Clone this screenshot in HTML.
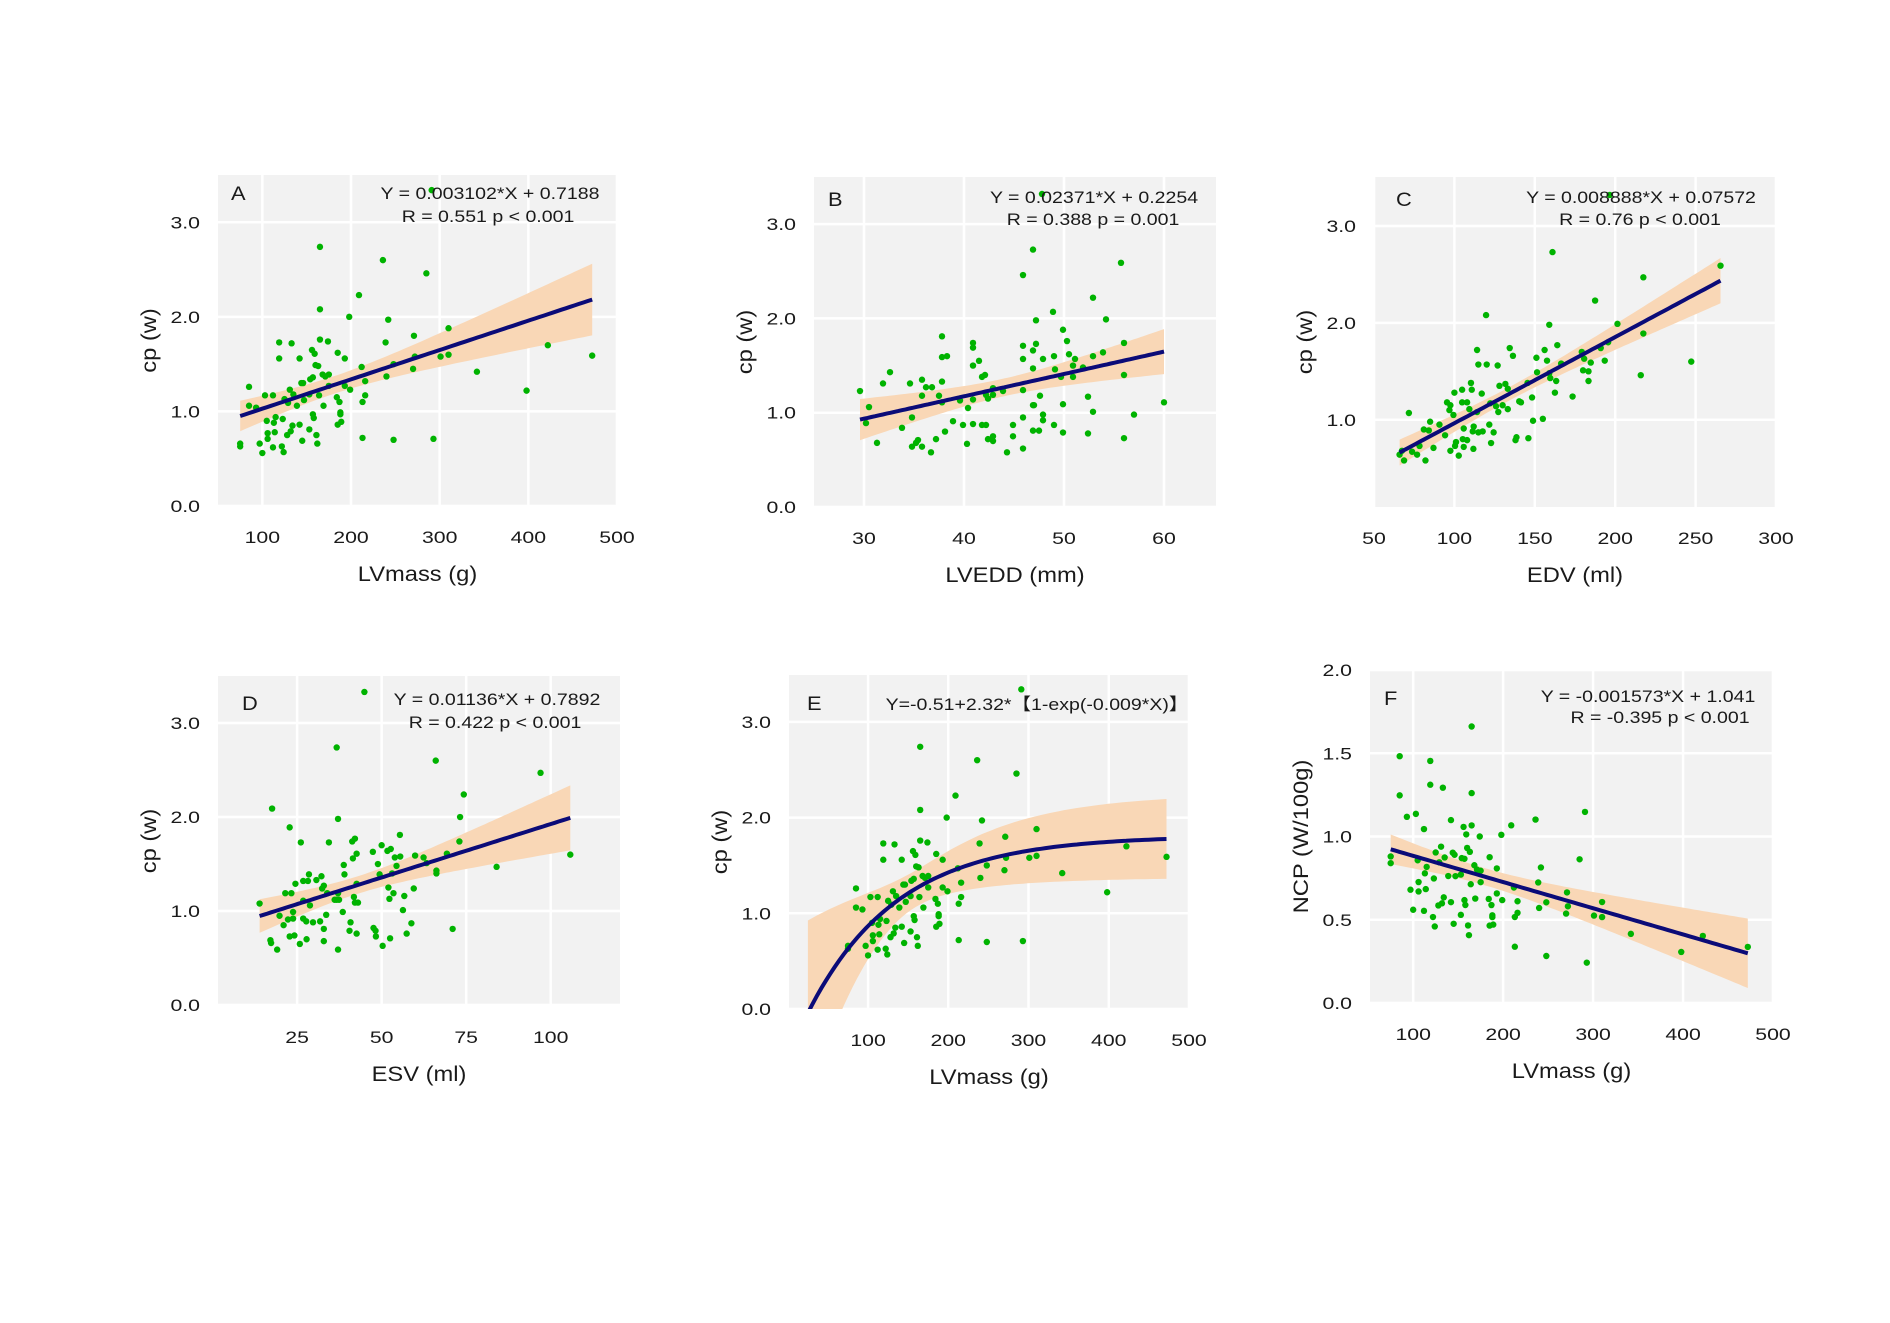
<!DOCTYPE html>
<html><head><meta charset="utf-8"><style>
html,body{margin:0;padding:0;background:#fff;}
svg{display:block;font-family:"Liberation Sans",Arial,sans-serif;}
</style></head><body>
<svg id="fig" width="1890" height="1323" viewBox="0 0 1890 1323" xmlns="http://www.w3.org/2000/svg"></svg>
<script>
// ---- data ----
const lvmass=[75,75,85,85,93,97,100,103,105,106,106,112,112,113,114,115,119,119,122,123,124,125,128,129,131,132,133,134,135,139,142,142,144,145,146,147,153,153,154,156,157,157,158,159,160,161,162,163,164,165,165,165,168,169,171,174,175,175,184,185,185,187,188,188,189,193,193,198,199,209,212,213,213,216,216,236,239,240,242,248,248,270,271,272,285,291,293,301,310,310,342,398,422,472];
const cp=[0.63,0.66,1.26,1.06,1.04,0.66,0.56,1.17,0.90,0.77,0.71,1.17,0.62,0.88,0.78,0.94,1.73,1.56,0.63,0.92,0.57,1.13,0.75,1.09,1.23,0.79,1.72,0.85,1.18,1.06,1.56,0.86,1.30,0.69,1.30,1.12,0.81,1.18,1.34,1.65,1.36,0.97,0.93,1.61,1.49,0.75,0.66,1.48,1.17,2.08,2.74,1.76,1.39,1.06,1.37,1.74,1.27,1.39,1.15,1.62,0.86,1.10,0.97,0.99,0.89,1.56,1.27,2.00,1.23,2.23,1.47,1.10,0.72,1.32,1.17,2.60,1.73,1.37,1.97,1.50,0.70,1.45,1.80,1.58,2.46,3.34,0.71,1.58,1.88,1.60,1.42,1.22,1.70,1.59];
const lvedd=[29.6,30.5,30.2,31.3,31.9,32.6,33.8,34.6,34.8,34.8,35.2,35.4,35.8,35.8,35.8,36.2,36.7,36.8,37.2,37.5,37.8,37.8,37.8,37.8,38.1,38.3,38.9,39.6,39.9,40.3,40.4,40.9,40.9,40.9,40.9,40.9,41.5,41.8,41.8,42.1,42.2,42.2,42.4,42.4,42.9,42.9,42.9,42.9,43.9,44.3,44.9,44.9,45.9,45.9,45.9,45.9,45.9,45.9,46.9,46.9,46.9,46.9,47.0,46.9,47.2,47.2,47.5,47.6,47.8,47.9,47.9,47.9,48.9,49.0,49.0,49.1,49.7,49.9,49.9,49.9,50.3,50.5,50.9,50.9,51.1,51.9,52.4,52.4,52.9,52.9,52.9,53.9,54.2,55.7,56.0,56.0,56.0,57.0,60.0];
const cpB=[1.23,1.06,0.89,0.68,1.31,1.43,0.84,1.31,0.95,0.64,0.68,0.71,1.35,1.18,0.64,1.27,0.58,1.27,0.72,1.18,1.81,1.59,1.33,1.11,0.80,1.60,0.91,1.13,0.87,0.67,1.05,1.74,1.69,1.50,1.14,0.88,1.55,1.38,0.87,1.40,0.87,1.19,1.15,0.72,1.26,1.19,0.75,0.70,1.23,0.58,0.87,0.75,2.46,1.71,1.57,1.24,0.95,0.62,2.73,1.66,1.47,1.08,1.08,0.81,1.98,1.73,0.81,1.18,3.32,1.57,0.98,0.92,2.07,1.60,0.87,1.46,1.38,1.88,1.09,0.79,1.76,1.62,1.50,1.38,1.57,1.48,1.17,0.78,2.22,1.60,1.01,1.64,1.99,2.59,1.74,1.40,0.73,0.98,1.11];
const edv=[65.9,67.4,68.7,71.7,73.7,76.8,78.3,81.0,82.0,84.1,84.9,87.0,90.7,94.2,95.4,96.9,97.5,97.5,99.4,100,100.4,101,102.7,104.8,104.8,105.2,105.8,105.8,107.9,107.9,109.3,110.3,110.8,111.4,111.8,112.0,114.1,114.1,114.9,114.9,117,117.6,119.7,120.1,121.7,122.3,122.8,124.4,125.9,126.9,127.3,128,130,131.7,133.2,133.2,134.4,136.4,138,138.6,140.3,141.4,145.5,146,148.3,148.9,151,151.4,155,156.1,157.6,159,159,159.6,161,162.5,163.3,164,166.4,173.5,179.2,180,180.7,183.4,183.4,184.8,187.5,191,193.5,195.6,201.4,215.9,217.5,217.5,247.3,265.5,196.6];
const cpC=[0.64,0.68,0.58,1.07,0.67,0.64,0.73,0.90,0.58,0.89,0.98,0.71,0.95,0.84,1.18,1.10,1.15,0.68,1.05,1.28,0.73,0.77,0.63,1.31,1.18,0.80,0.72,0.91,1.18,0.79,1.11,1.38,1.31,0.88,0.70,0.93,1.08,1.72,1.57,0.87,1.27,0.88,2.08,1.57,0.95,1.17,0.76,0.87,1.14,1.56,1.08,1.35,1.15,1.37,1.11,1.32,1.74,1.66,0.79,0.82,1.19,1.18,1.38,0.81,1.23,0.99,1.64,1.49,1.01,1.72,1.61,1.98,1.48,1.43,2.73,1.28,1.40,1.77,1.58,1.24,1.70,1.51,1.63,1.50,1.40,1.59,2.23,1.74,1.61,1.80,1.99,1.46,2.47,1.89,1.60,2.59,3.32];
const esv=[13.9,17.1,17.3,17.6,19.1,19.8,21.0,21.5,22.3,22.8,22.8,23.3,23.8,23.8,24.2,24.5,26.1,25.8,26.8,26.8,26.8,27.7,27.8,28.2,28.5,28.8,29.7,30.7,31.8,32.2,32.4,32.9,32.9,32.9,33.6,33.9,34.4,36.1,36.7,36.7,37.1,37.1,37.1,37.4,38.5,38.8,39.0,40.5,40.8,41.3,41.5,41.8,42.1,42.1,42.6,42.6,42.6,43.0,44.9,47.4,47.6,48.2,48.3,48.9,49.4,50.0,50.3,51.7,52.0,52.3,52.5,52.7,53.1,53.5,53.9,54.4,55.4,55.5,56.3,56.7,57.4,58.8,59.5,59.9,62.4,63.3,66.0,66.2,66.2,69.3,71.0,73.0,73.2,74.3,84.0,97.0,105.8];
const cpD=[1.08,0.69,0.66,2.09,0.59,0.95,0.85,1.19,0.91,1.89,0.73,1.19,0.99,0.92,0.74,1.29,1.73,0.65,1.32,1.11,0.92,0.89,0.70,1.32,1.39,1.06,0.88,1.33,0.89,1.37,1.24,1.27,0.81,0.68,0.96,1.19,1.73,1.12,2.74,1.12,1.98,1.19,0.59,1.12,0.99,1.49,1.39,0.79,0.88,1.74,1.56,1.15,1.77,1.09,1.61,1.29,0.76,1.09,3.33,1.63,0.82,0.79,0.73,1.50,1.39,1.70,0.63,1.64,1.25,1.13,0.71,1.66,1.40,1.19,1.57,1.48,1.81,1.58,1.01,1.16,0.76,0.87,1.24,1.59,1.57,1.51,2.60,1.43,1.40,1.61,0.81,1.74,2.00,2.24,1.47,2.47,1.60];
// NCP = cp per 100 g of LV mass
const ncp=cp.map((v,i)=>v*100/lvmass[i]);
// fit coefficients (from panel annotations)
const fitA=[0.003102,0.7188], fitB=[0.02371,0.2254], fitC=[0.008888,0.07572], fitD=[0.01136,0.7892], fitF=[-0.001573,1.041];
const fitE=[-0.51,2.32,0.009];
// tick arrays
const ticksMass=[100,200,300,400,500];
const ticksLvedd=[30,40,50,60];
const ticksEdv=[50,100,150,200,250,300];
const ticksEsv=[25,50,75,100];
const ticksCp=[0,1,2,3];
const ticksCpC=[1,2,3];
const ticksNcp=[0,0.5,1,1.5,2];

const NS="http://www.w3.org/2000/svg";
const svg=document.getElementById('fig');
function el(tag,attrs,parent){const e=document.createElementNS(NS,tag);for(const k in attrs)e.setAttribute(k,attrs[k]);(parent||svg).appendChild(e);return e;}
function txt(parent,x,y,s,size,anchor,sx,rot){
  const t=el('text',{x:0,y:0,'font-size':size,'text-anchor':anchor||'middle',fill:'#1a1a1a',transform:`translate(${x},${y})`+(rot?` rotate(${rot})`:'')+` scale(${sx||1},1)`},parent);
  t.textContent=s;return t;}

const panels=[
 {id:'a',letter:'A',r:[218,175,617,506],xd:[50,500],yd:[0,3.5],xs:lvmass,ys:cp,xt:ticksMass,yt:ticksCp,xl:'LVmass (g)',yl:'cp (w)',fit:fitA,lt:[13,25],eq:['Y = 0.003102*X + 0.7188','R = 0.551 p < 0.001'],ep:[272,24,270,47]},
 {id:'b',letter:'B',r:[814,177,1216,507],xd:[25,65.2],yd:[0,3.5],xs:lvedd,ys:cpB,xt:ticksLvedd,yt:ticksCp,xl:'LVEDD (mm)',yl:'cp (w)',fit:fitB,lt:[14,29],eq:['Y = 0.02371*X + 0.2254','R = 0.388 p = 0.001'],ep:[280,26,279,48]},
 {id:'c',letter:'C',r:[1374,177,1776,507],xd:[50,300],yd:[0.1,3.505],xs:edv,ys:cpC,xt:ticksEdv,yt:ticksCpC,xl:'EDV (ml)',yl:'cp (w)',fit:fitC,lt:[22,29],eq:['Y = 0.008888*X + 0.07572','R = 0.76 p < 0.001'],ep:[267,26,266,48]},
 {id:'d',letter:'D',r:[218,676,620,1006],xd:[1.6,120.5],yd:[-0.01,3.5],xs:esv,ys:cpD,xt:ticksEsv,yt:ticksCp,xl:'ESV (ml)',yl:'cp (w)',fit:fitD,lt:[24,34],eq:['Y = 0.01136*X + 0.7892','R = 0.422 p < 0.001'],ep:[279,29,277,52]},
 {id:'e',letter:'E',r:[789,675,1189,1009],xd:[1.5,500],yd:[0,3.49],xs:lvmass,ys:cp,xt:ticksMass,yt:ticksCp,xl:'LVmass (g)',yl:'cp (w)',fitE:fitE,eStart:25,lt:[18,35],eq:['Y=-0.51+2.32*【1-exp(-0.009*X)】'],ep:[248,35]},
 {id:'f',letter:'F',r:[1370,670,1773,1003],xd:[52,500],yd:[0,2.0],xs:lvmass,ys:ncp,xt:ticksMass,yt:ticksNcp,xl:'LVmass (g)',yl:'NCP (W/100g)',fit:fitF,lt:[14,35],eq:['Y = -0.001573*X + 1.041','R = -0.395 p < 0.001'],ep:[278,32,290,53]},
];

panels.forEach(p=>{
  const [L,T,R,B]=p.r;
  const X=v=>L+(v-p.xd[0])/(p.xd[1]-p.xd[0])*(R-L);
  const Y=v=>B-(v-p.yd[0])/(p.yd[1]-p.yd[0])*(B-T);
  const g=el('g',{});
  
  
  const bg=el('rect',{x:L,y:T,width:R-L,height:B-T,fill:'#f2f2f2'},g);
  
  
  const cid='clip-'+p.id;
  const cp_=el('clipPath',{id:cid},g);el('rect',{x:L,y:T,width:R-L,height:B-T},cp_);
  p.xt.forEach(v=>{const x=X(v);if(x>=L-1&&x<=R+1){const l=el('line',{x1:x,x2:x,y1:T,y2:B,stroke:'#fff','stroke-width':2.5},g);}});
  p.yt.forEach(v=>{const y=Y(v);if(y>=T-1&&y<=B+1){const l=el('line',{x1:L,x2:R,y1:y,y2:y,stroke:'#fff','stroke-width':2.5},g);}});
  const n=p.xs.length;
  const xmin=Math.min(...p.xs), xmax=Math.max(...p.xs);
  let f, reg;
  if(p.fit){f=x=>p.fit[0]*x+p.fit[1];reg=x=>x;}
  else {f=x=>p.fitE[0]+p.fitE[1]*(1-Math.exp(-p.fitE[2]*x));reg=x=>1-Math.exp(-p.fitE[2]*x);}
  const gx=p.xs.map(reg);const gm=gx.reduce((a,b)=>a+b,0)/n;
  const Sxx=gx.reduce((a,b)=>a+(b-gm)*(b-gm),0);
  const s=Math.sqrt(p.xs.reduce((a,x,i)=>a+Math.pow(p.ys[i]-f(x),2),0)/(n-2));
  const mult=p.fit?1.98:4.2;
  const x0=p.fit?xmin:p.eStart, x1=xmax;
  const N=80, up=[], lo=[], ln=[];
  for(let k=0;k<=N;k++){const x=x0+(x1-x0)*k/N;const gg=reg(x);const hw=mult*s*Math.sqrt(1/n+(gg-gm)*(gg-gm)/Sxx);
    up.push(X(x).toFixed(1)+','+Y(f(x)+hw).toFixed(1));lo.push(X(x).toFixed(1)+','+Y(f(x)-hw).toFixed(1));ln.push(X(x).toFixed(1)+','+Y(f(x)).toFixed(1));}
  const band=el('polygon',{points:up.concat(lo.reverse()).join(' '),fill:'#f9d7b6','clip-path':`url(#${cid})`},g);
  
  
  p.xs.forEach((x,i)=>{const c=el('circle',{cx:X(x),cy:Y(p.ys[i]),r:3.2,fill:'#00b300'},g);
    
    });
  const line=el('polyline',{points:ln.join(' '),fill:'none',stroke:'#0b0b78','stroke-width':4,'clip-path':`url(#${cid})`},g);
  
  
  p.xt.forEach(v=>{const t=txt(g,X(v),B+37,String(v),17,'middle',1.25);});
  p.yt.forEach(v=>{const t=txt(g,L-18,Y(v)+6,v.toFixed(1),17,'end',1.25);});
  const xt=txt(g,(L+R)/2,B+75,p.xl,21,'middle',1.13);
  const yt=txt(g,L-62,(T+B)/2,p.yl,21,'middle',1.13,-90);
  const lt=txt(g,L+p.lt[0],T+p.lt[1],p.letter,19,'start',1.15);
  p.eq.forEach((s2,i)=>{const t=txt(g,L+p.ep[i*2],T+p.ep[i*2+1],s2,17,'middle',1.15);});
});
</script>
</body></html>
